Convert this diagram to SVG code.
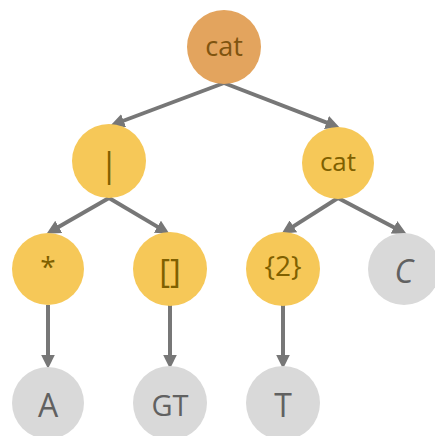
<svg xmlns="http://www.w3.org/2000/svg" width="435" height="436" viewBox="0 0 435 436">
<style>
.y{fill:#F6C858}
.o{fill:#E3A45E}
.g{fill:#D9D9D9}
.ty{fill:#7F6000;font-family:"Open Sans",sans-serif;font-size:26px;text-anchor:middle}
.to{fill:#7F5410;font-family:"Open Sans",sans-serif;font-size:27px;text-anchor:middle}
.tg{fill:#616161;font-family:"Open Sans",sans-serif;font-size:32px;text-anchor:middle}
.e{stroke:#777777;stroke-width:4;fill:none}
</style>
<defs>
<marker id="ah" markerUnits="userSpaceOnUse" markerWidth="14" markerHeight="14" refX="2" refY="6" orient="auto" viewBox="0 0 12 12">
<path d="M0,0 L12,6 L0,12 z" fill="#777777"/>
</marker>
</defs>
<g id="connectors">
<line class="e" x1="224" y1="83" x2="121.4" y2="121.5" marker-end="url(#ah)"/>
<line class="e" x1="224" y1="83" x2="328.7" y2="123.4" marker-end="url(#ah)"/>
<line class="e" x1="109" y1="198" x2="56.7" y2="228" marker-end="url(#ah)"/>
<line class="e" x1="109" y1="198" x2="159.4" y2="227.9" marker-end="url(#ah)"/>
<line class="e" x1="338" y1="198" x2="291.4" y2="227.6" marker-end="url(#ah)"/>
<line class="e" x1="338" y1="198" x2="396.1" y2="228.4" marker-end="url(#ah)"/>
<line class="e" x1="48" y1="305" x2="48" y2="357" marker-end="url(#ah)"/>
<line class="e" x1="170" y1="305" x2="170" y2="357" marker-end="url(#ah)"/>
<line class="e" x1="283" y1="305" x2="283" y2="357" marker-end="url(#ah)"/>
</g>
<g id="root"><circle class="o" cx="224" cy="47" r="37"/><text class="to" x="224" y="56">cat</text></g>
<g id="alt"><circle class="y" cx="109" cy="161" r="37"/><text class="ty" x="109" y="177" style="font-size:34px">|</text></g>
<g id="cat2"><circle class="y" cx="338" cy="163" r="36"/><text class="ty" x="338" y="171">cat</text></g>
<g id="star"><circle class="y" cx="48" cy="269" r="36"/><text class="ty" x="48" y="277" style="font-size:28px">*</text></g>
<g id="brackets"><circle class="y" cx="170" cy="269" r="37"/><text class="ty" x="170" y="283" style="font-size:33px">[]</text></g>
<g id="rep"><circle class="y" cx="283" cy="269" r="37"/><text class="ty" x="283" y="276" style="font-size:28px">{2}</text></g>
<g id="C"><circle class="g" cx="404" cy="269" r="36"/><text class="tg" x="404" y="283" font-style="italic">C</text></g>
<g id="A"><circle class="g" cx="48" cy="403" r="36"/><text class="tg" x="48" y="417">A</text></g>
<g id="GT"><circle class="g" cx="170" cy="403" r="37"/><text class="tg" x="170" y="416" style="font-size:29px">GT</text></g>
<g id="T"><circle class="g" cx="283" cy="403" r="37"/><text class="tg" x="283" y="417">T</text></g>
</svg>
